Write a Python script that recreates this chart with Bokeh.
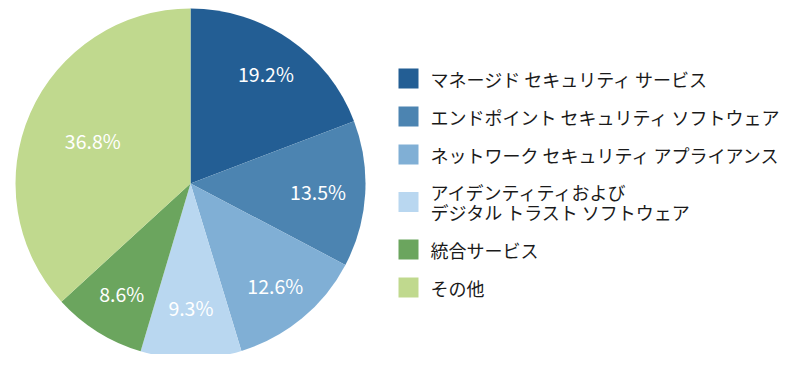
import math
from bokeh.plotting import figure
from bokeh.models import Range1d, ColumnDataSource
from bokeh.core.properties import value
from bokeh.embed import file_html
from bokeh.resources import INLINE

categories = [
    "マネージド セキュリティ サービス",
    "エンドポイント セキュリティ ソフトウェア",
    "ネットワーク セキュリティ アプライアンス",
    "アイデンティティおよび\nデジタル トラスト ソフトウェア",
    "統合サービス",
    "その他",
]
shares = [19.2, 13.5, 12.6, 9.3, 8.6, 36.8]
share_labels = ["19.2%", "13.5%", "12.6%", "9.3%", "8.6%", "36.8%"]
colors = ["#235E94", "#4C84B1", "#80AFD5", "#B9D7F0", "#6BA55E", "#C0D98E"]

# style
FONT = "Noto Sans CJK JP"
CX, CY, R = 190, 187, 175
label_r = [0.76, 0.73, 0.76, 0.71, 0.74, 0.61]

W, H = 784, 354
p = figure(width=W, height=H, output_backend="svg", toolbar_location=None,
           x_range=Range1d(0, W), y_range=Range1d(370 - H, 370),
           min_border=0, outline_line_color=None, background_fill_color="white")
p.axis.visible = False
p.grid.visible = False

total = sum(shares)
starts, ends, lx, ly = [], [], [], []
cum = 0.0
for i, s in enumerate(shares):
    a0 = math.pi / 2 - 2 * math.pi * cum / total
    a1 = math.pi / 2 - 2 * math.pi * (cum + s) / total
    mid = (a0 + a1) / 2
    starts.append(a0)
    ends.append(a1)
    lx.append(CX + R * label_r[i] * math.cos(mid))
    ly.append(CY + R * label_r[i] * math.sin(mid))
    cum += s

src = ColumnDataSource(dict(start=starts, end=ends, color=colors,
                            lx=lx, ly=ly, lab=share_labels))
p.wedge(x=CX, y=CY, radius=R, start_angle="start", end_angle="end",
        direction="clock", fill_color="color", line_color=None, source=src)
p.text(x="lx", y="ly", text="lab", source=src, text_color="white",
       text_font=value(FONT), text_font_size="19.5px",
       text_align="center", text_baseline="middle")

# legend
line_h = 19
base_h = 38
centers = []
y = 78
prev_h = None
for c in categories:
    n = c.count("\n") + 1
    h = base_h + (n - 1) * line_h
    if prev_h is not None:
        y += prev_h / 2 + h / 2
    centers.append(y)
    prev_h = h
ldata = dict(x=[408] * len(categories), y=[370 - v for v in centers],
             tx=[430] * len(categories), color=colors, text=categories)
lsrc = ColumnDataSource(ldata)
p.rect(x="x", y="y", width=20, height=20, fill_color="color",
       line_color=None, source=lsrc)
p.text(x="tx", y="y", text="text", source=lsrc, text_color="#1a1a1a",
       text_font=value(FONT), text_font_size="18px",
       text_align="left", text_baseline="middle", text_line_height=0.78)

open("out.html", "w").write(file_html(p, INLINE))
